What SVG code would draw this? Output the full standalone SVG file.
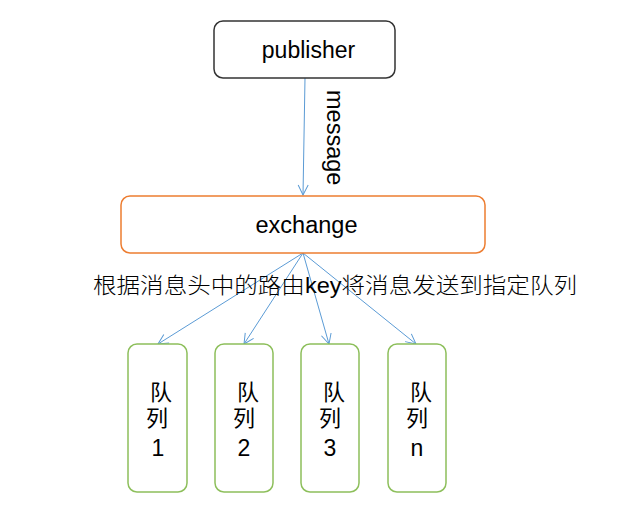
<svg xmlns="http://www.w3.org/2000/svg" width="629" height="518" viewBox="0 0 629 518">
<defs>
<style>
.t{font-family:"Liberation Sans",Arial,sans-serif;fill:#000}
.c{font-family:"Liberation Sans","Noto Sans CJK SC",sans-serif;fill:#000}
.q{fill:#fff;stroke:#8DBF5B;stroke-width:1.5}
.e{stroke:#5B9BD5;stroke-width:1;fill:none}
</style>
<marker id="a" viewBox="0 0 12 12" refX="11" refY="6" markerWidth="12" markerHeight="12" markerUnits="userSpaceOnUse" orient="auto">
<path d="M1,1 L11,6 L1,11" fill="none" stroke="#5B9BD5" stroke-width="1"/>
</marker>
</defs>
<rect width="629" height="518" fill="#fff"/>
<g id="connectors">
<line class="e" x1="305" y1="78" x2="303" y2="195" marker-end="url(#a)"/>
<line class="e" x1="303" y1="253" x2="158" y2="344" marker-end="url(#a)"/>
<line class="e" x1="303" y1="253" x2="244" y2="344" marker-end="url(#a)"/>
<line class="e" x1="303" y1="253" x2="329" y2="344" marker-end="url(#a)"/>
<line class="e" x1="303" y1="253" x2="416" y2="344" marker-end="url(#a)"/>
<text class="t" font-size="23.5" transform="translate(327,90) rotate(90)">message</text>
<text class="c" font-size="22" font-weight="300" x="93" y="293" textLength="484" lengthAdjust="spacingAndGlyphs">根据消息头中的路由key将消息发送到指定队列</text>
</g>
<g id="publisher">
<rect x="214" y="21" width="181" height="57" rx="9" fill="#fff" stroke="#333" stroke-width="1.5"/>
<text class="t" font-size="23" x="308.5" y="58" text-anchor="middle">publisher</text>
</g>
<g id="exchange">
<rect x="121" y="196" width="364" height="57" rx="9" fill="#fff" stroke="#ED7D31" stroke-width="1.5"/>
<text class="t" font-size="23.5" x="306.5" y="233" text-anchor="middle">exchange</text>
</g>
<g id="queue1">
<rect class="q" x="128" y="344" width="59" height="148" rx="9"/>
<text class="c" font-size="22" x="161" y="400" text-anchor="middle">队</text>
<text class="c" font-size="22" x="157" y="426" text-anchor="middle">列</text>
<text class="t" font-size="23" x="158" y="456" text-anchor="middle">1</text>
</g>
<g id="queue2">
<rect class="q" x="215" y="344" width="58" height="148" rx="9"/>
<text class="c" font-size="22" x="248" y="400" text-anchor="middle">队</text>
<text class="c" font-size="22" x="244" y="426" text-anchor="middle">列</text>
<text class="t" font-size="23" x="244" y="456" text-anchor="middle">2</text>
</g>
<g id="queue3">
<rect class="q" x="301" y="344" width="58" height="148" rx="9"/>
<text class="c" font-size="22" x="334" y="400" text-anchor="middle">队</text>
<text class="c" font-size="22" x="330" y="426" text-anchor="middle">列</text>
<text class="t" font-size="23" x="330" y="456" text-anchor="middle">3</text>
</g>
<g id="queuen">
<rect class="q" x="388" y="344" width="58" height="148" rx="9"/>
<text class="c" font-size="22" x="421" y="400" text-anchor="middle">队</text>
<text class="c" font-size="22" x="417" y="426" text-anchor="middle">列</text>
<text class="t" font-size="23" x="417" y="456" text-anchor="middle">n</text>
</g>
</svg>
